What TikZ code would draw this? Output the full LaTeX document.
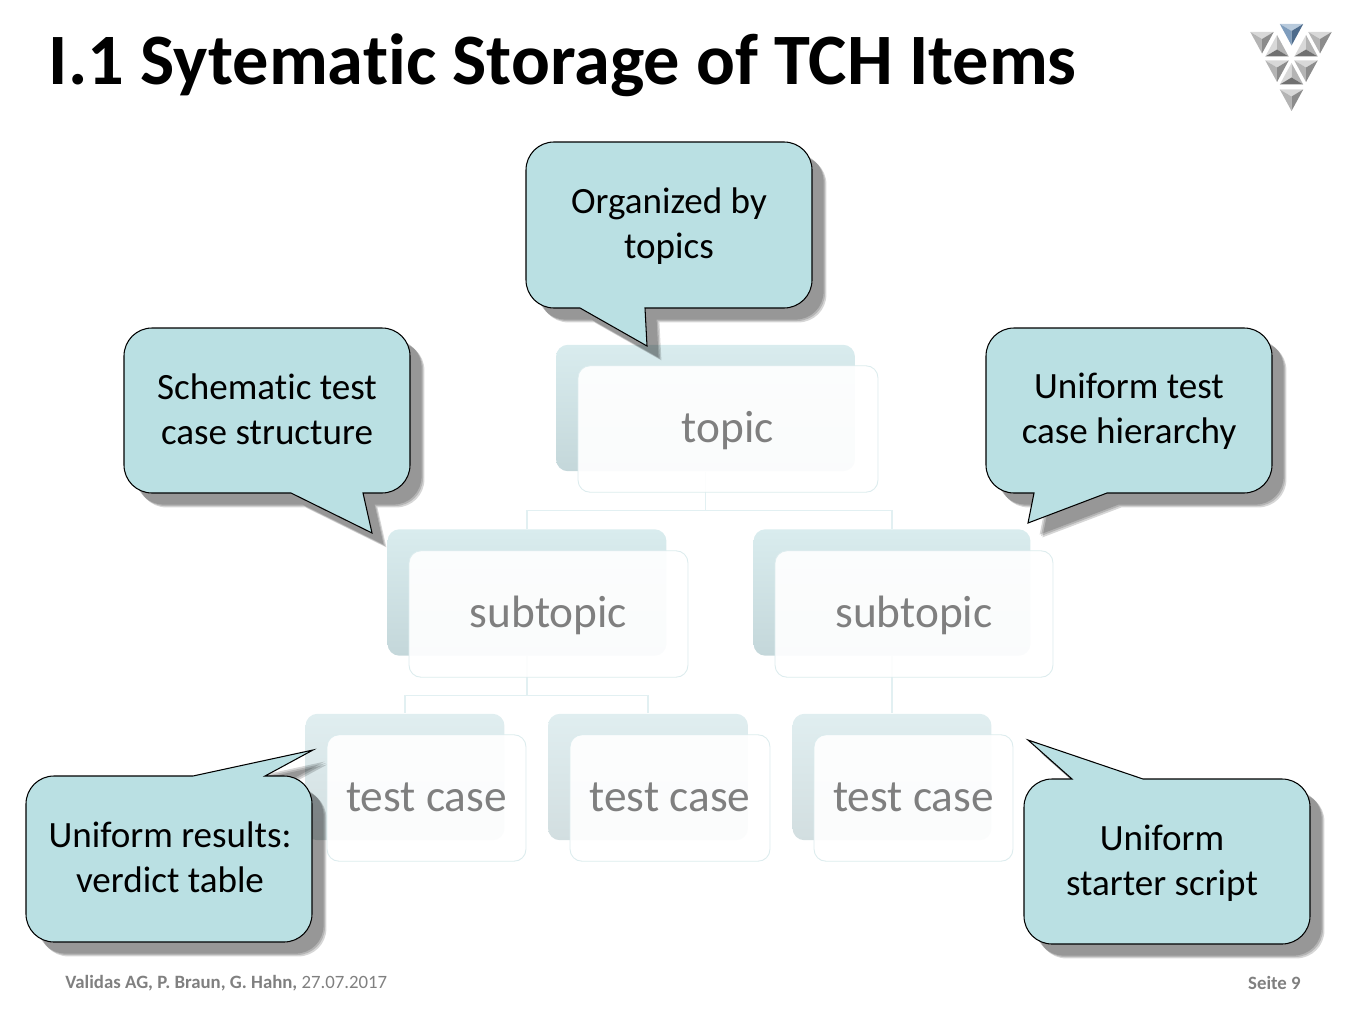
\documentclass[tikz,border=0pt]{standalone}
\usepackage{fontspec}
\setmainfont[Ligatures=CommonOff]{Carlito}
\usetikzlibrary{shadows}
\definecolor{bubblefill}{HTML}{BAE0E3}
\definecolor{backtop}{HTML}{D9ECEE}
\definecolor{backbot}{HTML}{C4D7DA}
\definecolor{casetop}{HTML}{E0EEF0}
\definecolor{casebot}{HTML}{D2DEE0}
\definecolor{frontline}{HTML}{DCECEE}
\definecolor{treeline}{HTML}{E2F0F2}
\definecolor{treetext}{HTML}{7F7F7F}
\definecolor{foottext}{HTML}{808080}
\definecolor{logotop}{HTML}{D8D8D8}
\definecolor{logoleft}{HTML}{B4B4B4}
\definecolor{logoright}{HTML}{8C8C8C}
\definecolor{logobase}{HTML}{707070}
\definecolor{logobluetop}{HTML}{B8CADC}
\definecolor{logoblueleft}{HTML}{7F9DBD}
\definecolor{logoblueright}{HTML}{4D6B8C}
\newcommand{\logodown}[5]{%
\fill[#3] (#1-11.7,#2) -- (#1+11.7,#2) -- (#1,#2+7) -- cycle;
\fill[#4] (#1-11.7,#2) -- (#1,#2+7) -- (#1,#2+21.5) -- cycle;
\fill[#5] (#1+11.7,#2) -- (#1,#2+7) -- (#1,#2+21.5) -- cycle;
}
\newcommand{\logoup}[2]{%
\fill[logotop] (#1,#2) -- (#1,#2+14.5) -- (#1-11.7,#2+21.5) -- cycle;
\fill[logoleft] (#1,#2) -- (#1,#2+14.5) -- (#1+11.7,#2+21.5) -- cycle;
\fill[logobase] (#1-11.7,#2+21.5) -- (#1,#2+14.5) -- (#1+11.7,#2+21.5) -- cycle;
}
\begin{document}
\begin{tikzpicture}[x=0.02cm,y=-0.02cm,
backbox/.style={rounded corners=0.24cm,top color=backtop,bottom color=backbot,inner sep=0pt,minimum height=2.53cm},
casebox/.style={backbox,top color=casetop,bottom color=casebot},
frontbox/.style={rounded corners=0.24cm,draw=frontline,line width=0.5pt,fill=white,fill opacity=0.92,text opacity=1,text=treetext,inner sep=0pt,minimum height=2.53cm,text height=17.9pt,text depth=2pt,font=\fontsize{25.8}{30}\selectfont},
bubble/.style={draw=black,line width=0.6pt,fill=bubblefill,
  general shadow={shadow xshift=6.6pt,shadow yshift=-6.6pt,opacity=0.16,fill=black},
  general shadow={shadow xshift=7.4pt,shadow yshift=-7.4pt,opacity=0.16,fill=black},
  general shadow={shadow xshift=8.2pt,shadow yshift=-8.2pt,opacity=0.16,fill=black}},
bubbletext/.style={align=center,inner sep=0pt,font=\fontsize{21.1}{25.5}\selectfont},
treelink/.style={draw=treeline,line width=0.6pt}]
\useasboundingbox (0,0) rectangle (1365,1024);
% title and footer
\node[anchor=west,inner sep=0pt,font=\fontsize{41.2}{44}\selectfont\bfseries] (title) at (48.5,65) {I.1 Sytematic Storage of TCH Items};
\node[anchor=west,inner sep=0pt,text=foottext,font=\fontsize{10.7}{12}\selectfont] (footleft) at (65,983.5) {\textbf{Validas AG, P. Braun, G. Hahn,} 27.07.2017};
\node[anchor=east,inner sep=0pt,text=foottext,font=\fontsize{10.7}{12}\selectfont\bfseries] (footright) at (1301,983) {Seite 9};
% logo
\logodown{1291.5}{24}{logobluetop}{logoblueleft}{logoblueright}
\logodown{1262}{32}{logotop}{logoleft}{logoright}
\logodown{1320}{32}{logotop}{logoleft}{logoright}
\logodown{1277}{60.5}{logotop}{logoleft}{logoright}
\logodown{1306}{60.5}{logotop}{logoleft}{logoright}
\logodown{1291.5}{89.5}{logotop}{logoleft}{logoright}
\logoup{1277}{35}
\logoup{1306}{35}
\logoup{1291.5}{63}
% back boxes
\node[backbox,minimum width=5.98cm] (topicback) at (705.5,408) {};
\node[backbox,minimum width=5.58cm] (subleftback) at (527,592.5) {};
\node[backbox,minimum width=5.54cm] (subrightback) at (892,592.5) {};
\node[casebox,minimum width=3.98cm] (caseoneback) at (405,777) {};
\node[casebox,minimum width=4cm] (casetwoback) at (648,777) {};
\node[casebox,minimum width=3.98cm] (casethreeback) at (892,777) {};
% links
\draw[treelink] (topicback.south) -- ++(0,39) -| (subleftback.north);
\draw[treelink] (topicback.south) -- ++(0,39) -| (subrightback.north);
\draw[treelink] (subleftback.south) -- ++(0,39) -| (caseoneback.north);
\draw[treelink] (subleftback.south) -- ++(0,39) -| (casetwoback.north);
\draw[treelink] (subrightback.south) -- (casethreeback.north);
% bubbles
\draw[bubble] (645,308) [rounded corners=0.56cm] -- (812,308) -- (812,142) -- (526,142) -- (526,308) [sharp corners] -- (580,308) -- (647,346) -- cycle;
\node[bubbletext] (bubbletopic) at (669,226.5) {Organized by\\topics};
\draw[bubble] (363,493) [rounded corners=0.56cm] -- (410,493) -- (410,328) -- (124,328) -- (124,493) [sharp corners] -- (291,493) -- (372,533) -- cycle;
\node[bubbletext] (bubbleschema) at (267,409) {Schematic test\\case structure};
\draw[bubble] (1107,493) [rounded corners=0.56cm] -- (1272,493) -- (1272,328) -- (986,328) -- (986,493) [sharp corners] -- (1034,493) -- (1028,523) -- cycle;
\node[bubbletext] (bubblehier) at (1129,411.5) {Uniform test\\case hierarchy};
\draw[bubble] (193,776) [rounded corners=0.56cm] -- (26,776) -- (26,942) -- (312,942) -- (312,776) [sharp corners] -- (265,776) -- (313,750) -- cycle;
\node[bubbletext] (bubbleverdict) at (170,857) {Uniform results:\\verdict table};
\draw[bubble] (1143,779) [rounded corners=0.56cm] -- (1310,779) -- (1310,944) -- (1024,944) -- (1024,779) [sharp corners] -- (1072,779) -- (1028,740) -- cycle;
\node[bubbletext] (bubblescript) at (1162,863) {Uniform\\starter script};
% front boxes
\node[frontbox,minimum width=6cm] (topic) at (728,429) {topic};
\node[frontbox,minimum width=5.58cm] (subleft) at (548.5,614) {subtopic};
\node[frontbox,minimum width=5.56cm] (subright) at (914,614) {subtopic};
\node[frontbox,minimum width=3.98cm] (caseone) at (426.5,798) {test case};
\node[frontbox,minimum width=4cm] (casetwo) at (670,798) {test case};
\node[frontbox,minimum width=3.98cm] (casethree) at (913.5,798) {test case};
\end{tikzpicture}
\end{document}
